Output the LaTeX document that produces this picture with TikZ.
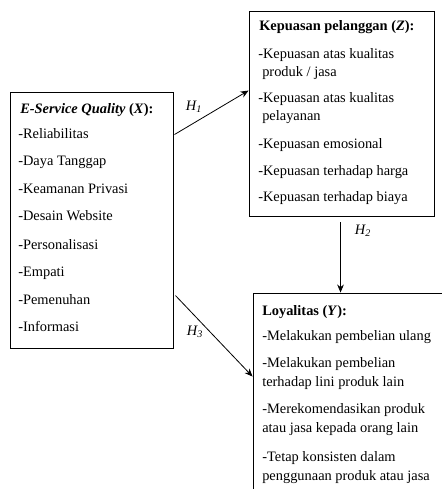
\documentclass[tikz,border=0pt]{standalone}
\usepackage{fontspec}
\setmainfont{Liberation Serif}
\usetikzlibrary{arrows.meta,fit,calc}
\begin{document}
\begin{tikzpicture}[x=0.75pt,y=-0.75pt,
  box/.style={draw, line width=0.7pt, rectangle, inner sep=0pt},
  txt/.style={anchor=base west, inner sep=0pt, font=\fontsize{10.8}{13}\selectfont},
  conn/.style={line width=0.6pt, -{Stealth[length=6pt,width=5pt]}},
  hlab/.style={inner sep=0pt, font=\fontsize{10.8}{13}\selectfont\itshape}]
\useasboundingbox (0,0) rectangle (442,489);
\clip (0,0) rectangle (442,489);
% box corners
\coordinate (x1) at (10,92);  \coordinate (x2) at (173,348);
\coordinate (z1) at (249,11); \coordinate (z2) at (434,216);
\coordinate (y1) at (253,293); \coordinate (y2) at (480,520);
\node[box, fit=(x1)(x2)] (X) {};
\node[box, fit=(z1)(z2)] (Z) {};
\node[box, fit=(y1)(y2)] (Y) {};
% X texts
\node[txt] (xt) at (20,113) {\textbf{\textit{E-Service Quality}} \textbf{(\textit{X}):}};
\node[txt] (x1t) at (18,138) {-Reliabilitas};
\node[txt] (x2t) at (18,165) {-Daya Tanggap};
\node[txt] (x3t) at (18,193) {-Keamanan Privasi};
\node[txt] (x4t) at (18,220) {-Desain Website};
\node[txt] (x5t) at (18,249) {-Personalisasi};
\node[txt] (x6t) at (18,276) {-Empati};
\node[txt] (x7t) at (18,304) {-Pemenuhan};
\node[txt] (x8t) at (18,331) {-Informasi};
% Z texts
\node[txt] (zt) at (259,30) {\textbf{Kepuasan pelanggan (\textit{Z}):}};
\node[txt] (z1a) at (258,58) {-Kepuasan atas kualitas};
\node[txt] (z1b) at (262,76) {produk / jasa};
\node[txt] (z2a) at (258,102) {-Kepuasan atas kualitas};
\node[txt] (z2b) at (262,120) {pelayanan};
\node[txt] (z3) at (258,148) {-Kepuasan emosional};
\node[txt] (z4) at (258,175) {-Kepuasan terhadap harga};
\node[txt] (z5) at (258,201) {-Kepuasan terhadap biaya};
% Y texts
\node[txt] (yt) at (262,315) {\textbf{Loyalitas (\textit{Y}):}};
\node[txt] (y1t) at (262,340) {-Melakukan pembelian ulang};
\node[txt] (y2a) at (262,367) {-Melakukan pembelian};
\node[txt] (y2b) at (262,386) {terhadap lini produk lain};
\node[txt] (y3a) at (262,413) {-Merekomendasikan produk};
\node[txt] (y3b) at (262,432) {atau jasa kepada orang lain};
\node[txt] (y4a) at (262,461) {-Tetap konsisten dalam};
\node[txt] (y4b) at (262,480) {penggunaan produk atau jasa};
% connectors
\draw[conn] ($(X.north east)+(1,43)$) -- ($(Z.north west)+(0,80)$);
\draw[conn] ($(Z.south west)+(92,6)$) coordinate (h2s) -- (h2s |- Y.north);
\draw[conn] ($(X.north east)+(2,204)$) -- ($(Y.north west)+(0,84)$);
% labels
\node[hlab] (h1) at (194,107) {H\textsubscript{1}};
\node[hlab] (h2) at (363,231) {H\textsubscript{2}};
\node[hlab] (h3) at (195,332) {H\textsubscript{3}};
\end{tikzpicture}
\end{document}
